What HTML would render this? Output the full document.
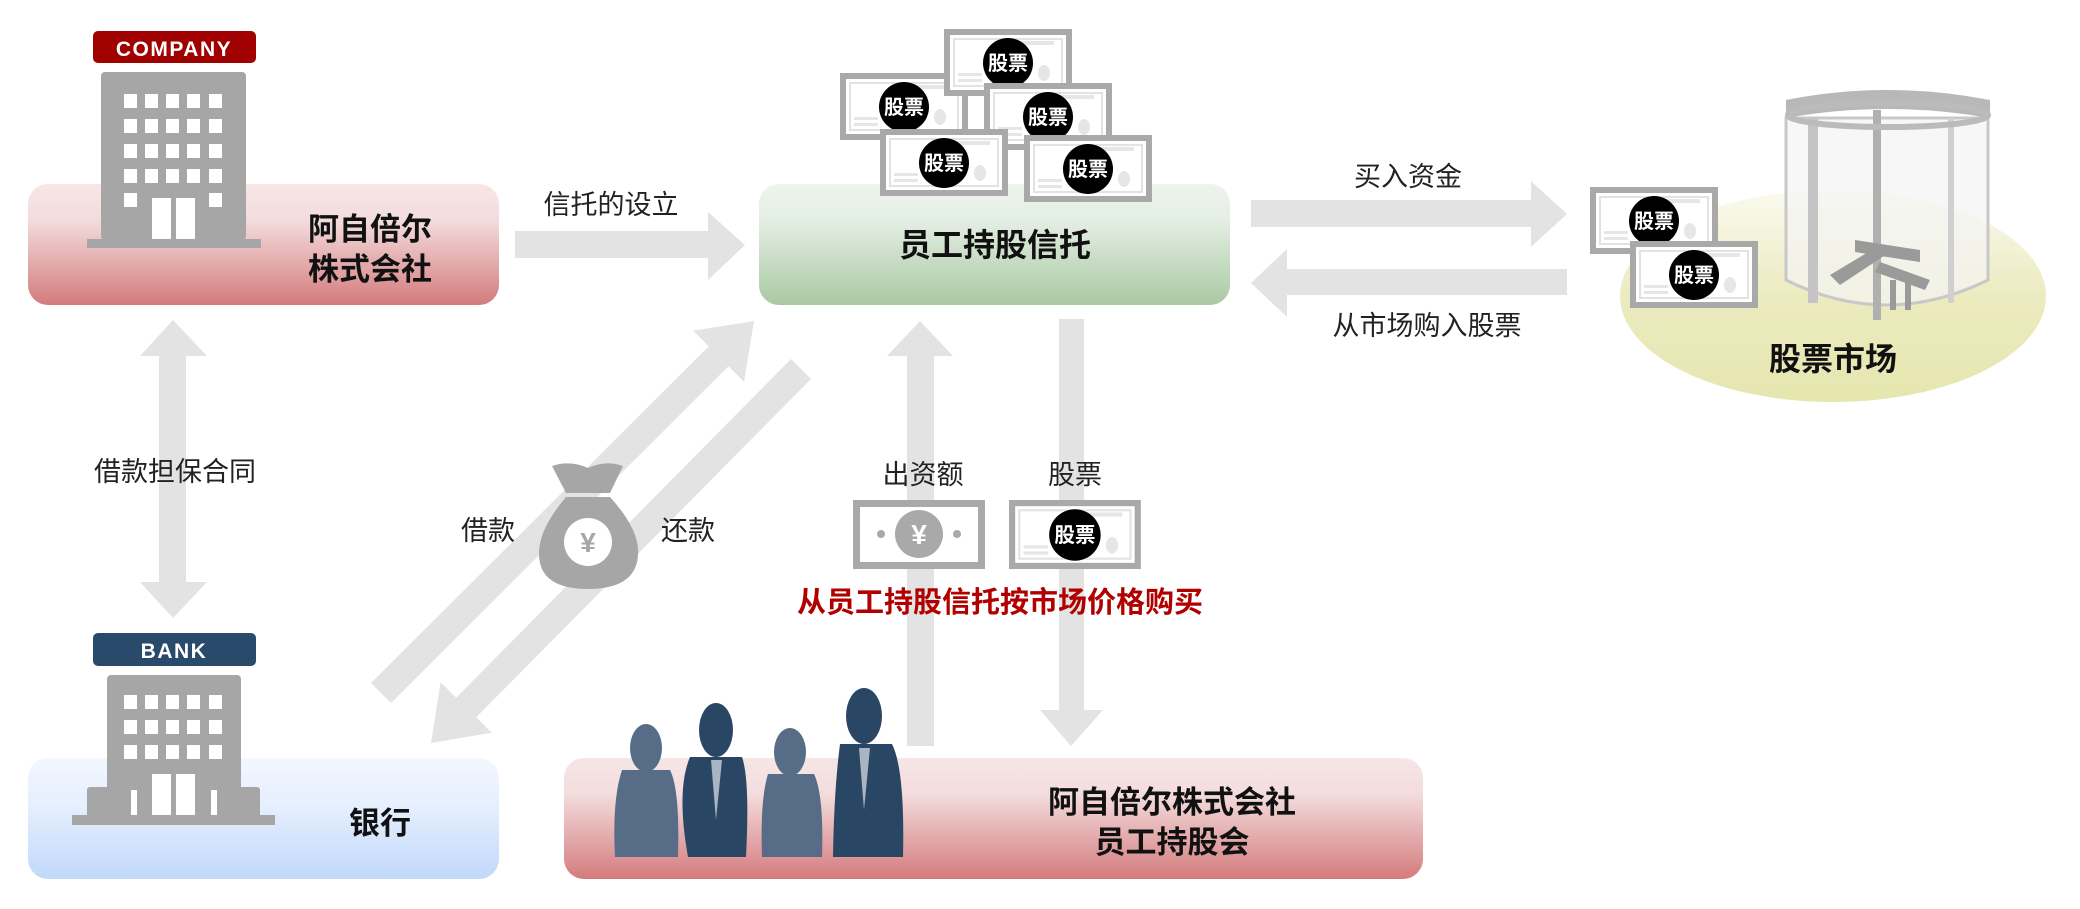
<!DOCTYPE html>
<html><head><meta charset="utf-8"><style>
html,body{margin:0;padding:0;background:#fff;}
svg{display:block;}
text{font-family:"Liberation Sans","Noto Sans CJK SC",sans-serif;}
</style></head><body>
<svg width="2080" height="909" viewBox="0 0 2080 909" xmlns="http://www.w3.org/2000/svg">
<defs>
<linearGradient id="red" x1="0" y1="0" x2="0" y2="1">
<stop offset="0" stop-color="#f7e6e7"/><stop offset="0.3" stop-color="#f3dcdd"/><stop offset="1" stop-color="#d47b7c"/></linearGradient>
<linearGradient id="green" x1="0" y1="0" x2="0" y2="1">
<stop offset="0" stop-color="#eef4ee"/><stop offset="0.3" stop-color="#e4eee3"/><stop offset="1" stop-color="#a9c9a3"/></linearGradient>
<linearGradient id="blue" x1="0" y1="0" x2="0" y2="1">
<stop offset="0" stop-color="#f3f7ff"/><stop offset="0.4" stop-color="#e6effe"/><stop offset="1" stop-color="#c0d8fa"/></linearGradient>
<linearGradient id="yel" x1="0" y1="0" x2="0" y2="1">
<stop offset="0" stop-color="#fafaf0"/><stop offset="0.5" stop-color="#ecebc0"/><stop offset="1" stop-color="#e6e6b0"/></linearGradient>
<g id="cert">
<rect width="128" height="67" fill="#a9a9a9"/>
<rect x="6" y="6" width="116" height="55" fill="#fff"/>
<rect x="10" y="10" width="108" height="47" fill="#fff" stroke="#e2e2e2" stroke-width="2"/>
<rect x="70" y="12" width="40" height="4" fill="#e6e6e6"/>
<rect x="14" y="44" width="24" height="3" fill="#e6e6e6"/>
<rect x="14" y="50" width="24" height="3" fill="#e6e6e6"/>
<ellipse cx="100" cy="44" rx="6" ry="8" fill="#e6e6e6"/>
<circle cx="64" cy="34" r="25" fill="#000"/>
<text x="64" y="41" font-size="20" font-weight="bold" fill="#fff" text-anchor="middle">股票</text>
</g>
</defs>

<!-- arrows -->
<g fill="#e3e3e3">
<polygon points="515,231 708,231 708,212 745,245 708,280 708,258 515,258"/>
<polygon points="1251,200 1531,200 1531,181 1567,214 1531,247 1531,227 1251,227"/>
<polygon points="1567,269 1287,269 1287,249 1251,283 1287,317 1287,295 1567,295"/>
<polygon points="159,356 140,356 173,320 207,356 186,356 186,582 207,582 173,618 140,582 159,582"/>
<polygon points="907,746 907,356 887,356 920,321 953,356 934,356 934,746"/>
<polygon points="1059,319 1084,319 1084,710 1103,710 1071,746 1040,710 1059,710"/>
<polygon points="371,683 708.7,346.4 693.2,330.8 754,321 744,381.8 728.5,366.2 391,703"/>
<polygon points="791,359 456.2,697.7 440.6,682.2 431,743 491.8,732.8 476.2,717.3 811,379"/>
</g>

<!-- company box -->
<rect x="28" y="184" width="471" height="121" rx="20" fill="url(#red)"/>
<rect x="93" y="31" width="163" height="32" rx="5" fill="#a10000"/>
<text x="174" y="56" font-size="21" font-weight="bold" fill="#fff" text-anchor="middle" letter-spacing="1.5">COMPANY</text>
<rect x="101" y="72" width="145" height="168" rx="4" fill="#a6a6a6"/>
<rect x="87" y="239" width="174" height="9" fill="#a6a6a6"/>
<g fill="#fff">
<rect x="124" y="94" width="13" height="14"/><rect x="145" y="94" width="13" height="14"/><rect x="166" y="94" width="13" height="14"/><rect x="187" y="94" width="13" height="14"/><rect x="209" y="94" width="13" height="14"/>
<rect x="124" y="119" width="13" height="14"/><rect x="145" y="119" width="13" height="14"/><rect x="166" y="119" width="13" height="14"/><rect x="187" y="119" width="13" height="14"/><rect x="209" y="119" width="13" height="14"/>
<rect x="124" y="144" width="13" height="14"/><rect x="145" y="144" width="13" height="14"/><rect x="166" y="144" width="13" height="14"/><rect x="187" y="144" width="13" height="14"/><rect x="209" y="144" width="13" height="14"/>
<rect x="124" y="169" width="13" height="14"/><rect x="145" y="169" width="13" height="14"/><rect x="166" y="169" width="13" height="14"/><rect x="187" y="169" width="13" height="14"/><rect x="209" y="169" width="13" height="14"/>
<rect x="124" y="193" width="13" height="14"/><rect x="209" y="193" width="13" height="14"/>
<rect x="152" y="198" width="19" height="41"/><rect x="176" y="198" width="19" height="41"/>
</g>
<text x="370" y="240" font-size="31" font-weight="bold" text-anchor="middle" fill="#111">阿自倍尔</text>
<text x="370" y="280" font-size="31" font-weight="bold" text-anchor="middle" fill="#111">株式会社</text>
<text x="611" y="214" font-size="27" text-anchor="middle" fill="#222">信托的设立</text>

<!-- trust box -->
<rect x="759" y="184" width="471" height="121" rx="20" fill="url(#green)"/>
<use href="#cert" x="840" y="73"/>
<use href="#cert" x="944" y="29"/>
<use href="#cert" x="984" y="83"/>
<use href="#cert" x="880" y="129"/>
<use href="#cert" x="1024" y="135"/>
<text x="995" y="256" font-size="32" font-weight="bold" text-anchor="middle" fill="#111">员工持股信托</text>

<text x="1408" y="186" font-size="27" text-anchor="middle" fill="#222">买入资金</text>
<text x="1427" y="335" font-size="27" text-anchor="middle" fill="#222">从市场购入股票</text>

<!-- market -->
<ellipse cx="1833" cy="296" rx="213" ry="106" fill="url(#yel)"/>
<g>
<path d="M1786,118 L1786,280 Q1886,330 1988,280 L1988,118 Z" fill="#f4f4f4" fill-opacity="0.7" stroke="#c8c8c8" stroke-width="3"/>
<rect x="1808" y="118" width="10" height="185" fill="#c4c4c4"/>
<rect x="1873" y="110" width="8" height="210" fill="#b0b0b0"/>
<rect x="1948" y="118" width="6" height="185" fill="#d0d0d0"/>
<path d="M1786,100 Q1886,80 1990,100 L1990,118 Q1886,100 1786,118 Z" fill="#b8b8b8"/>
<ellipse cx="1888" cy="115" rx="100" ry="12" fill="none" stroke="#bbb" stroke-width="6"/>
<g fill="#9a9a9a">
<polygon points="1855,240 1920,250 1920,262 1855,252"/>
<polygon points="1830,275 1880,245 1890,252 1840,285"/>
<polygon points="1880,262 1930,280 1925,290 1875,272"/>
<rect x="1890" y="280" width="6" height="30"/><rect x="1905" y="282" width="6" height="28"/>
</g>
</g>
<use href="#cert" x="1590" y="187"/>
<use href="#cert" x="1630" y="241"/>
<text x="1833" y="370" font-size="32" font-weight="bold" text-anchor="middle" fill="#111">股票市场</text>

<text x="175" y="481" font-size="27" text-anchor="middle" fill="#222">借款担保合同</text>

<!-- money bag -->
<path d="M552,466 Q570,460 588,468 Q606,460 623,466 L610,493 L566,493 Z" fill="#a6a6a6"/>
<path d="M566,497 L610,497 Q640,530 638,555 Q636,589 588,589 Q540,589 539,555 Q538,530 566,497 Z" fill="#a6a6a6"/>
<circle cx="588" cy="542" r="24" fill="#fff"/>
<text x="588" y="552" font-size="28" font-weight="bold" text-anchor="middle" fill="#a6a6a6">¥</text>
<text x="488" y="540" font-size="27" text-anchor="middle" fill="#222">借款</text>
<text x="688" y="540" font-size="27" text-anchor="middle" fill="#222">还款</text>

<text x="923" y="484" font-size="27" text-anchor="middle" fill="#222">出资额</text>
<text x="1075" y="484" font-size="27" text-anchor="middle" fill="#222">股票</text>
<g transform="translate(853,500)">
<rect width="132" height="69" fill="#a9a9a9"/>
<rect x="7" y="7" width="118" height="55" fill="#fff"/>
<circle cx="66" cy="34" r="24" fill="#a9a9a9"/>
<text x="66" y="44" font-size="28" font-weight="bold" text-anchor="middle" fill="#fff">¥</text>
<circle cx="28" cy="34" r="4" fill="#a9a9a9"/><circle cx="104" cy="34" r="4" fill="#a9a9a9"/>
</g>
<g transform="translate(1009,500) scale(1.03)"><use href="#cert"/></g>
<text x="1000" y="612" font-size="29" font-weight="bold" text-anchor="middle" fill="#b00000">从员工持股信托按市场价格购买</text>

<!-- bank -->
<rect x="28" y="758" width="471" height="121" rx="20" fill="url(#blue)"/>
<rect x="93" y="633" width="163" height="33" rx="5" fill="#2a4a6b"/>
<text x="174" y="658" font-size="21" font-weight="bold" fill="#fff" text-anchor="middle" letter-spacing="1.5">BANK</text>
<rect x="107" y="675" width="134" height="145" rx="4" fill="#a6a6a6"/>
<rect x="87" y="787" width="44" height="33" rx="3" fill="#a6a6a6"/>
<rect x="217" y="787" width="43" height="33" rx="3" fill="#a6a6a6"/>
<rect x="72" y="815" width="203" height="10" fill="#a6a6a6"/>
<g fill="#fff">
<rect x="124" y="695" width="13" height="14"/><rect x="145" y="695" width="13" height="14"/><rect x="166" y="695" width="13" height="14"/><rect x="187" y="695" width="13" height="14"/><rect x="209" y="695" width="13" height="14"/>
<rect x="124" y="720" width="13" height="14"/><rect x="145" y="720" width="13" height="14"/><rect x="166" y="720" width="13" height="14"/><rect x="187" y="720" width="13" height="14"/><rect x="209" y="720" width="13" height="14"/>
<rect x="124" y="745" width="13" height="14"/><rect x="145" y="745" width="13" height="14"/><rect x="166" y="745" width="13" height="14"/><rect x="187" y="745" width="13" height="14"/><rect x="209" y="745" width="13" height="14"/>
<rect x="152" y="774" width="19" height="41"/><rect x="176" y="774" width="19" height="41"/>
<rect x="131" y="790" width="6" height="25"/><rect x="211" y="790" width="6" height="25"/>
</g>
<text x="380" y="834" font-size="31" font-weight="bold" text-anchor="middle" fill="#111">银行</text>

<!-- employee box -->
<rect x="564" y="758" width="859" height="121" rx="20" fill="url(#red)"/>
<g>
<ellipse cx="646" cy="748" rx="16" ry="24" fill="#566c87"/>
<path d="M622,770 L670,770 Q680,790 678,857 L615,857 Q612,800 622,770 Z" fill="#566c87"/>
<ellipse cx="716" cy="730" rx="17" ry="27" fill="#2a4665"/>
<path d="M690,757 L742,757 Q750,780 746,857 L688,857 Q676,790 690,757 Z" fill="#2a4665"/>
<ellipse cx="790" cy="752" rx="16" ry="24" fill="#566c87"/>
<path d="M768,774 L814,774 Q824,795 822,857 L762,857 Q760,800 768,774 Z" fill="#566c87"/>
<ellipse cx="864" cy="716" rx="18" ry="28" fill="#2a4665"/>
<path d="M840,744 L892,744 Q905,770 903,857 L833,857 Q834,790 840,744 Z" fill="#2a4665"/>
<polygon points="711,760 722,760 716,820" fill="#fff" fill-opacity="0.6"/>
<polygon points="859,748 870,748 864,810" fill="#fff" fill-opacity="0.6"/>
</g>
<text x="1172" y="813" font-size="31" font-weight="bold" text-anchor="middle" fill="#111">阿自倍尔株式会社</text>
<text x="1172" y="853" font-size="31" font-weight="bold" text-anchor="middle" fill="#111">员工持股会</text>
</svg>
</body></html>
